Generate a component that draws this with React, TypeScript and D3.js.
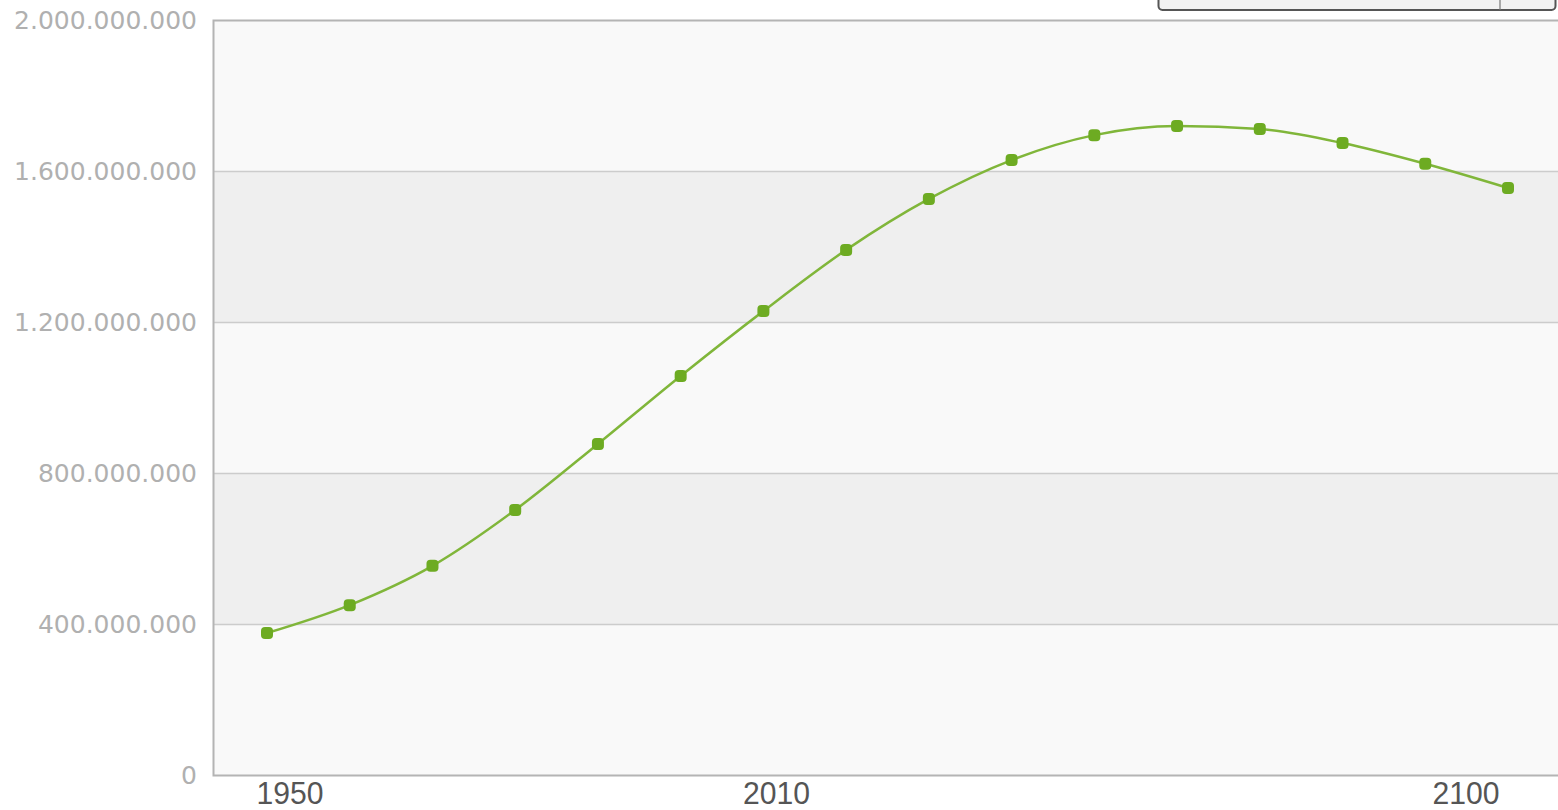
import { useEffect, useRef } from "react";
import * as d3 from "d3";

const years = [1950, 1960, 1970, 1980, 1990, 2000, 2010, 2020, 2030, 2040, 2050, 2060, 2070, 2080, 2090, 2100];
const population = [
	376e6, 450e6, 554e6, 702e6, 877e6, 1057e6, 1229e6, 1391e6,
	1526e6, 1629e6, 1695e6, 1719e6, 1711e6, 1674e6, 1619e6, 1555e6,
];
const yTicks = [0, 400e6, 800e6, 1200e6, 1600e6, 2000e6];
const xLabels = [1950, 2010, 2100];
// label nudges, the chart lib shifted these off the points
const xLabelShift = [23, 13, -42];

const fmt = (v: number) => (v === 0 ? "0" : d3.format(",")(v).replace(/,/g, "."));

export default function App() {
	const svgRef = useRef<SVGSVGElement>(null);

	useEffect(() => {
		if (!svgRef.current) return;
		const width = 1558;
		const height = 810;
		const svg = d3.select(svgRef.current);
		svg.selectAll("*").remove();
		svg.attr("width", width).attr("height", height);

		const plot = { left: 213, top: 20, right: 1558, bottom: 775 };

		const xScale = d3.scaleLinear().domain([1950, 2100]).range([267, 1508]);
		const yScale = d3.scaleLinear().domain([0, 2000e6]).range([plot.bottom, plot.top]);

		const g = svg.append("g");

		// alternating bands
		const bands = d3.pairs(yTicks);
		g.selectAll(".band")
			.data(bands)
			.enter()
			.append("rect")
			.attr("x", plot.left)
			.attr("y", d => yScale(d[1]))
			.attr("width", plot.right - plot.left)
			.attr("height", d => yScale(d[0]) - yScale(d[1]))
			.style("fill", (_, i) => (i % 2 === 1 ? "#efefef" : "#f9f9f9"));

		// grid lines
		g.selectAll(".grid")
			.data(yTicks.slice(1, -1))
			.enter()
			.append("line")
			.attr("x1", plot.left)
			.attr("x2", plot.right)
			.attr("y1", d => yScale(d) + 0.5)
			.attr("y2", d => yScale(d) + 0.5)
			.style("stroke", "#cccccc")
			.style("stroke-width", 1.5);

		// frame
		g.append("path")
			.attr("d", `M${plot.right},${plot.top + 0.5}H${plot.left + 0.5}V${plot.bottom + 0.5}H${plot.right}`)
			.style("fill", "none")
			.style("stroke", "#b4b4b4")
			.style("stroke-width", 2);

		// y labels
		g.selectAll(".ylab")
			.data(yTicks)
			.enter()
			.append("text")
			.attr("x", 197)
			.attr("y", d => yScale(d))
			.attr("dy", "0.36em")
			.attr("text-anchor", "end")
			.style("font-family", "'DejaVu Sans', sans-serif")
			.style("font-size", "25px")
			.style("fill", "#b0b0b0")
			.text(d => fmt(d));

		// x labels
		g.selectAll(".xlab")
			.data(xLabels)
			.enter()
			.append("text")
			.attr("x", (d, i) => xScale(d) + xLabelShift[i])
			.attr("y", 804)
			.attr("text-anchor", "middle")
			.attr("textLength", 67)
			.attr("lengthAdjust", "spacingAndGlyphs")
			.style("font-family", "'Liberation Sans', Arial, sans-serif")
			.style("font-size", "31px")
			.style("fill", "#555")
			.text(d => String(d));

		// line
		const line = d3
			.line<number>()
			.x((_, i) => xScale(years[i]))
			.y(d => yScale(d))
			.curve(d3.curveMonotoneX);

		g.append("path")
			.datum(population)
			.attr("d", line)
			.style("fill", "none")
			.style("stroke", "#80b63a")
			.style("stroke-width", 2.5);

		g.selectAll(".pt")
			.data(population)
			.enter()
			.append("rect")
			.attr("x", (_, i) => xScale(years[i]) - 6)
			.attr("y", d => yScale(d) - 6)
			.attr("width", 12)
			.attr("height", 12)
			.attr("rx", 4)
			.style("fill", "#6dab22");

		// cut-off button group at the top right
		const btn = svg.append("g");
		btn.append("rect")
			.attr("x", 1158.5)
			.attr("y", -12)
			.attr("width", 397)
			.attr("height", 22)
			.attr("rx", 4)
			.style("fill", "#f2f2f2")
			.style("stroke", "#555")
			.style("stroke-width", 2);
		btn.append("line")
			.attr("x1", 1500)
			.attr("x2", 1500)
			.attr("y1", 0)
			.attr("y2", 10)
			.style("stroke", "#777")
			.style("stroke-width", 1.2);
	}, []);

	return (
		<div style={{ position: "absolute", left: 0, top: 0 }}>
			<svg ref={svgRef} style={{ display: "block" }} />
		</div>
	);
}
